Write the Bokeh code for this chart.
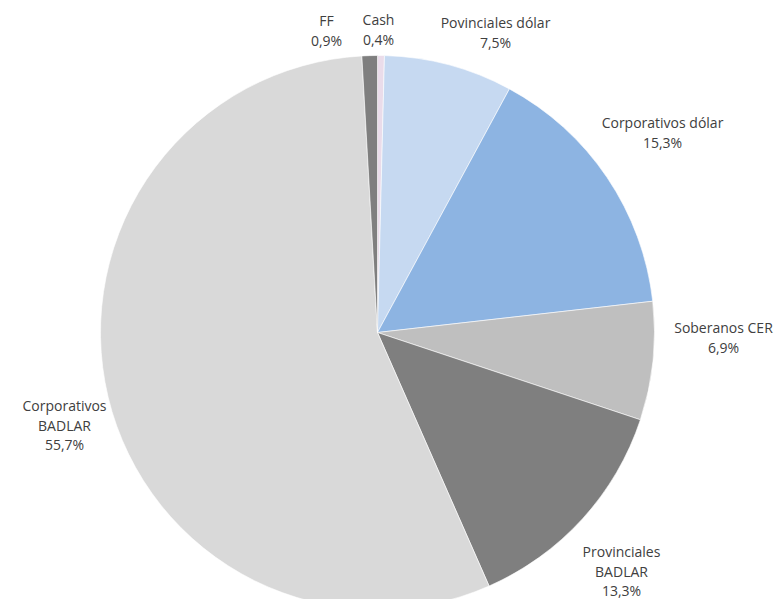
import math
from bokeh.plotting import figure
from bokeh.models import Range1d, ColumnDataSource
from bokeh.core.properties import value
from bokeh.embed import file_html
from bokeh.resources import INLINE

# ---- data (clockwise from 12 o'clock) ----
categories = ["Cash", "Povinciales dólar", "Corporativos dólar", "Soberanos CER",
              "Provinciales BADLAR", "Corporativos BADLAR", "FF"]
shares = [0.4, 7.5, 15.3, 6.9, 13.3, 55.7, 0.9]
label_lines = [["Cash"], ["Povinciales dólar"], ["Corporativos dólar"], ["Soberanos CER"],
               ["Provinciales", "BADLAR"], ["Corporativos", "BADLAR"], ["FF"]]

# ---- styles / layout ----
colors = ["#eadcea", "#c6d9f1", "#8db4e2", "#bfbfbf", "#7f7f7f", "#d9d9d9", "#7f7f7f"]
label_pos = [(378, 19), (495, 22), (662, 122), (723, 327), (621, 551), (64, 405), (326, 20)]
line_gap = 19.5
cx, cy, R = 377, 332, 277
FONT = "Open Sans"

W, H = 783, 599
p = figure(width=W, height=H, output_backend="svg", toolbar_location=None,
           x_range=Range1d(0, W), y_range=Range1d(-H, 0),
           min_border=0, outline_line_color=None)
p.axis.visible = False
p.grid.visible = False
p.background_fill_color = "white"

total = sum(shares)
starts, ends = [], []
acc = 0.0
for s in shares:
    a0 = math.pi / 2 - 2 * math.pi * acc / total
    acc += s
    a1 = math.pi / 2 - 2 * math.pi * acc / total
    starts.append(a1)
    ends.append(a0)

src = ColumnDataSource(dict(start=starts, end=ends, color=colors, cat=categories))
p.wedge(x=cx, y=-cy, radius=R, radius_units="screen", start_angle="start", end_angle="end",
        fill_color="color", line_color="white", line_width=0.6, source=src)

tx, ty, tt = [], [], []
for lines, s, (lx, ly) in zip(label_lines, shares, label_pos):
    allines = lines + [f"{s:.1f}".replace(".", ",") + "%"]
    for i, t in enumerate(allines):
        tx.append(lx)
        ty.append(-(ly + i * line_gap))
        tt.append(t)
p.text(x=tx, y=ty, text=tt, text_align="center", text_baseline="middle",
       text_font=value(FONT), text_font_size="14px", text_color="#404040")

open("out.html", "w").write(file_html(p, INLINE))
